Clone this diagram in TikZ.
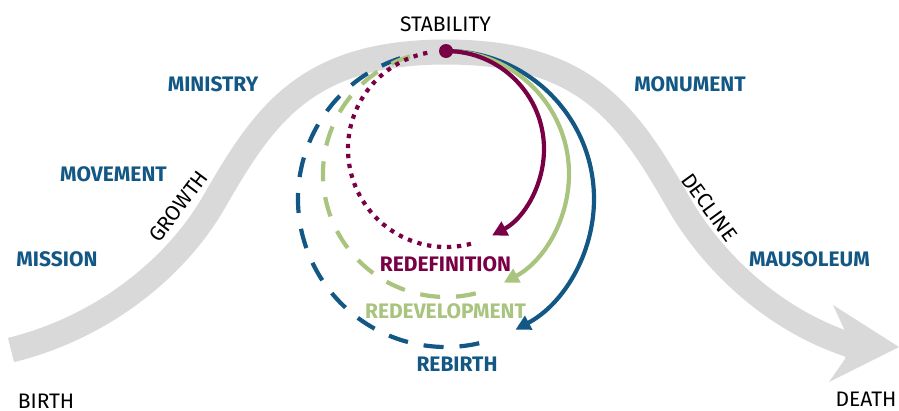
\documentclass[tikz,border=0pt]{standalone}
\usepackage{fontspec}
\setmainfont{Fira Sans}
\usetikzlibrary{arrows.meta}
\definecolor{lcblue}{RGB}{19,87,133}
\definecolor{lcred}{RGB}{122,0,70}
\definecolor{lcgreen}{RGB}{168,196,126}
\definecolor{lcgray}{RGB}{217,217,217}
\tikzset{
  stage/.style={font=\fontsize{21}{24}\selectfont\bfseries, text=lcblue, inner sep=0pt},
  phase/.style={font=\fontsize{21}{24}\selectfont, text=black, inner sep=0pt},
  solidarc/.style={line width=4.2pt, -{Triangle[length=15pt,width=15pt]}},
  dashedarc/.style={line width=4.2pt, dash pattern=on 20pt off 16pt},
  dottedarc/.style={line width=4.2pt, dash pattern=on 4.3pt off 5.7pt},
  band/.style={lcgray, line width=25pt},
}
\begin{document}
\begin{tikzpicture}[x=1pt,y=1pt]
\useasboundingbox (0,0) rectangle (899,-410);

% life-cycle band with its arrow head
\draw[band] (11,-350) .. controls (108,-326) and (179,-263) .. (214,-202)
  .. controls (264,-115) and (306,-52) .. (446,-52)
  .. controls (586,-52) and (628,-115) .. (678,-202)
  .. controls (713,-263) and (774,-320) .. (850,-345);
\fill[lcgray] (845,-331) -- (833,-305) -- (899,-347) -- (829,-382) -- (845,-359) -- cycle;

% phase labels
\node[phase] (stability) at (445.5,-24.5) {STABILITY};
\node[phase] (birth) at (46,-401) {BIRTH};
\node[phase] (death) at (866,-399.5) {DEATH};
\node[phase, rotate=53] (growth) at (178.5,-206.5) {GROWTH};
\node[phase, rotate=-54] (decline) at (709.5,-207.5) {DECLINE};

% stage labels
\node[stage] (ministry) at (213,-84.5) {MINISTRY};
\node[stage] (movement) at (113.5,-174.5) {MOVEMENT};
\node[stage] (mission) at (57,-259.5) {MISSION};
\node[stage] (monument) at (690,-84.5) {MONUMENT};
\node[stage] (mausoleum) at (809.5,-259.5) {MAUSOLEUM};
\node[stage, text=lcred] (redef) at (445.5,-264.5) {REDEFINITION};
\node[stage, text=lcgreen] (redev) at (445.5,-311.5) {REDEVELOPMENT};
\node[stage] (rebirth) at (457,-364.5) {REBIRTH};

% centres of the three renewal loops
\coordinate (cred) at (446,-149);
\coordinate (cgreen) at (446,-174);
\coordinate (cblue) at (446,-199);
\coordinate (topp) at (446,-51);

% renewal loops: dashed/dotted return paths
\draw[dashedarc, lcblue] ([shift={(108:148)}]cblue) arc[start angle=108, end angle=289, radius=148];
\draw[dashedarc, lcgreen] ([shift={(107:123)}]cgreen) arc[start angle=107, end angle=289, radius=123];
\draw[dottedarc, lcred] ([shift={(101:98)}]cred) arc[start angle=101, end angle=288, radius=98];

% renewal loops: solid arrows leaving the top
\draw[solidarc, lcblue] (topp) arc[start angle=90, end angle=-62, radius=148];
\draw[solidarc, lcgreen] (topp) arc[start angle=90, end angle=-62, radius=123];
\draw[solidarc, lcred] (topp) arc[start angle=90, end angle=-62, radius=98];

\node[circle, fill=lcred, inner sep=0pt, minimum size=14pt] (top) at (topp) {};
\end{tikzpicture}
\end{document}
